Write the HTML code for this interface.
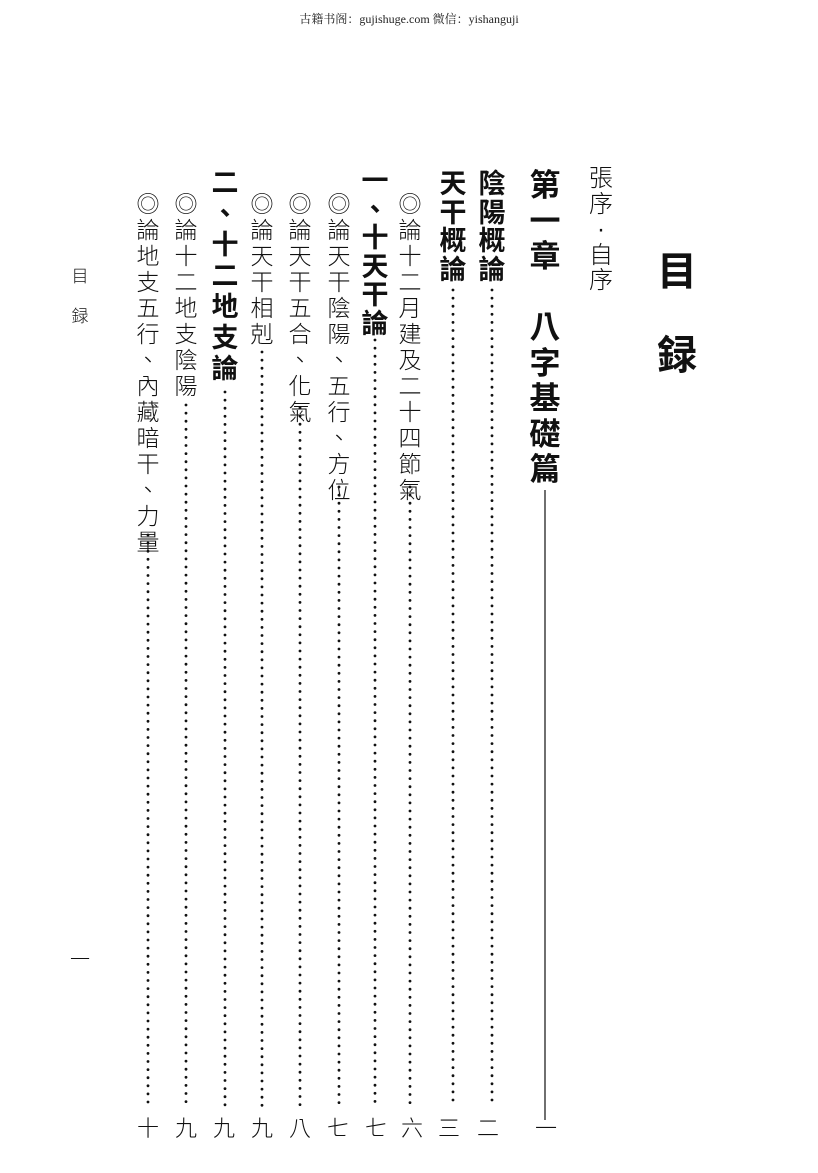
<!DOCTYPE html>
<html><head><meta charset="utf-8"><style>
html,body{margin:0;padding:0;background:#fff;}
body{width:818px;height:1173px;position:relative;overflow:hidden;font-family:"Liberation Sans","Noto Sans CJK TC",sans-serif;color:#111;}
.c{position:absolute;text-align:center;line-height:1;}
.hdr{position:absolute;top:10px;left:0;width:818px;text-align:center;font-size:12px;font-family:"Liberation Serif","Noto Serif CJK SC",serif;color:#222;}
</style></head><body>
<div class="hdr">古籍书阁：gujishuge.com 微信：yishanguji</div>
<svg width="818" height="1173" style="position:absolute;left:0;top:0">
<g id="dots" fill="#111"></g>
<line x1="545" y1="490" x2="545" y2="1120" stroke="#222" stroke-width="1.3"/>
</svg>
<div id="root"></div>
<script>
const cols=[
 [601,167,"張序·自序",24,25.5,300,null],
 [545,170,"第一章　八字基礎篇",31,35.5,700,null],
 [492,171,"陰陽概論",27,28.5,700,290],
 [453,171,"天干概論",27,28.5,700,290],
 [410,193,"◎論十二月建及二十四節氣",23,26,300,487],
 [375,168,"一、十天干論",27,28.5,700,340],
 [339,193,"◎論天干陰陽、五行、方位",23,26,300,487],
 [300,193,"◎論天干五合、化氣",23,26,300,408],
 [262,193,"◎論天干相剋",23,26,300,352],
 [225,170,"二、十二地支論",27,31,700,392],
 [186,193,"◎論十二地支陰陽",23,26,300,405],
 [148,193,"◎論地支五行、內藏暗干、力量",23,26,300,535]
];
const nums=[[546,"一"],[488,"二"],[449,"三"],[412,"六"],[376,"七"],[338,"七"],[300,"八"],[262,"九"],[224,"九"],[186,"九"],[148,"十"]];
const root=document.getElementById('root');
function put(x,y,ch,size,w){const d=document.createElement('div');d.className='c';d.textContent=ch;
 d.style.cssText=`left:${x-size/2-2}px;top:${y}px;width:${size+4}px;font-size:${size}px;font-weight:${w}`;root.appendChild(d);}
const dots=document.getElementById('dots');
cols.forEach(([x,t,s,sz,st,w,ds])=>{[...s].forEach((ch,i)=>{put(x,t+i*st,ch,sz,w);});
 if(ds){for(let y=ds;y<=1106;y+=8.1){const c=document.createElementNS('http://www.w3.org/2000/svg','circle');c.setAttribute('cx',x);c.setAttribute('cy',y);c.setAttribute('r',1.4);dots.appendChild(c);}}});
nums.forEach(([x,ch])=>put(x,1118,ch,22,300));
put(677,252,"目",40,700);put(677,336,"録",40,700);
put(80,268,"目",17,300);put(80,308,"録",17,300);put(80,950,"一",20,300);
</script>
</body></html>
